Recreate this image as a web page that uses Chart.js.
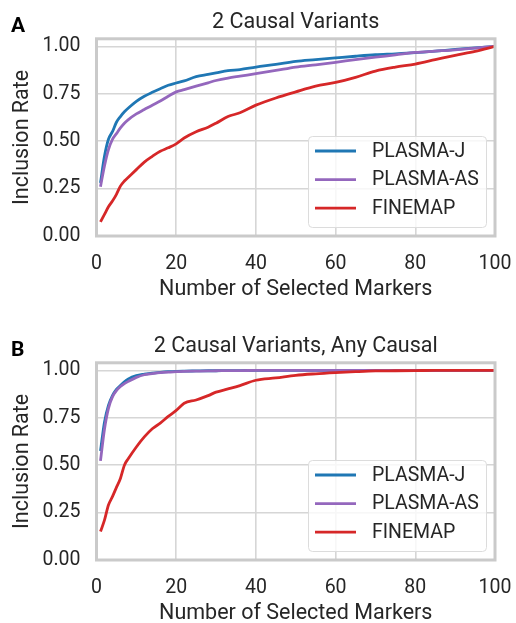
<!DOCTYPE html>
<html>
<head>
<meta charset="utf-8">
<script src="https://cdn.jsdelivr.net/npm/chart.js@4/dist/chart.umd.min.js"></script>
<style>
    html, body { margin: 0; padding: 0; overflow: hidden; background: #fff; }
    .panel { position: absolute; left: 0; width: 516px; height: 324px; }
    #panelA { top: 0; }
    #panelB { top: 324px; }
</style>
</head>
<body>
<div class="panel" id="panelA"><canvas id="chartA" width="516" height="324"></canvas></div>
<div class="panel" id="panelB"><canvas id="chartB" width="516" height="324"></canvas></div>
<script>
var markerCounts = [1, 2, 3, 4, 5, 6, 7, 8, 10, 12, 14, 16, 18, 20, 22, 25, 28, 30, 33, 36,
    40, 45, 50, 55, 60, 65, 70, 75, 80, 85, 90, 95, 100];

// panel A: 2 causal variants
var plasmaJA = [0.28, 0.42, 0.51, 0.55, 0.60, 0.63, 0.655, 0.675, 0.71, 0.737, 0.758, 0.777, 0.795, 0.807, 0.818, 0.84, 0.852, 0.86, 0.872, 0.878,
    0.891, 0.905, 0.921, 0.93, 0.939, 0.948, 0.956, 0.961, 0.967, 0.975, 0.984, 0.992, 1.0];
var plasmaAsA = [0.26, 0.37, 0.456, 0.51, 0.54, 0.57, 0.595, 0.614, 0.644, 0.667, 0.69, 0.712, 0.737, 0.76, 0.772, 0.79, 0.808, 0.82, 0.833, 0.843,
    0.856, 0.873, 0.891, 0.903, 0.916, 0.93, 0.943, 0.955, 0.968, 0.975, 0.982, 0.991, 1.0];
var finemapA = [0.074, 0.114, 0.154, 0.184, 0.22, 0.263, 0.29, 0.31, 0.35, 0.39, 0.42, 0.447, 0.465, 0.486, 0.517, 0.55, 0.574, 0.595, 0.63, 0.65,
    0.69, 0.728, 0.76, 0.79, 0.81, 0.837, 0.87, 0.891, 0.907, 0.93, 0.953, 0.974, 1.0];

// panel B: 2 causal variants, any causal
var plasmaJB = [0.575, 0.727, 0.815, 0.867, 0.90, 0.92, 0.94, 0.955, 0.972, 0.98, 0.986, 0.99, 0.993, 0.995, 0.996, 0.997, 0.998, 0.998, 0.999, 0.999,
    1.0, 1.0, 1.0, 1.0, 1.0, 1.0, 1.0, 1.0, 1.0, 1.0, 1.0, 1.0, 1.0];
var plasmaAsB = [0.523, 0.69, 0.80, 0.86, 0.893, 0.915, 0.93, 0.942, 0.963, 0.977, 0.983, 0.988, 0.991, 0.993, 0.995, 0.996, 0.997, 0.998, 0.999, 0.999,
    1.0, 1.0, 1.0, 1.0, 1.0, 1.0, 1.0, 1.0, 1.0, 1.0, 1.0, 1.0, 1.0];
var finemapB = [0.15, 0.21, 0.29, 0.334, 0.383, 0.43, 0.5, 0.535, 0.596, 0.649, 0.692, 0.722, 0.757, 0.789, 0.827, 0.844, 0.867, 0.885, 0.902, 0.92,
    0.948, 0.96, 0.974, 0.982, 0.988, 0.993, 0.997, 0.998, 0.999, 1.0, 1.0, 1.0, 1.0];

var seriesLabels = ['PLASMA-J', 'PLASMA-AS', 'FINEMAP'];
var seriesColors = ['#1f77b4', '#9467bd', '#d62728'];
var xTickValues = [0, 20, 40, 60, 80, 100];
var yTickValues = [0, 0.25, 0.5, 0.75, 1.0];

var textColor = '#262626';
var gridColor = '#d6d6d6';
var frameColor = '#cacaca';

Chart.defaults.font.family = 'Roboto, "Liberation Sans", sans-serif';
Chart.defaults.color = textColor;

function toPoints(values) {
    return markerCounts.map(function (x, i) {
        return {x: x, y: values[i]};
    });
}

// frame, panel letter and a matplotlib-like legend in the lower right corner
var panelPlugin = {
    id: 'panelDecor',
    afterDatasetsDraw: function (chart) {
        var ctx = chart.ctx;
        var area = chart.chartArea;
        ctx.save();
        ctx.strokeStyle = frameColor;
        ctx.lineWidth = 3;
        ctx.strokeRect(area.left, area.top, area.right - area.left, area.bottom - area.top);
        ctx.restore();
    },
    afterDraw: function (chart, args, opts) {
        var ctx = chart.ctx;
        var area = chart.chartArea;
        ctx.save();
        ctx.fillStyle = '#000';
        ctx.font = 'bold 21px Roboto, "Liberation Sans", sans-serif';
        ctx.textBaseline = 'alphabetic';
        ctx.textAlign = 'left';
        ctx.fillText(opts.letter, 11, 32);

        var boxW = 178, boxH = 91;
        var bx = area.right - 9 - boxW;
        var by = area.bottom - 9 - boxH;
        ctx.beginPath();
        ctx.roundRect(bx + 0.5, by + 0.5, boxW, boxH, 4);
        ctx.fillStyle = 'rgba(255,255,255,0.8)';
        ctx.fill();
        ctx.strokeStyle = '#dcdcdc';
        ctx.lineWidth = 1;
        ctx.stroke();

        ctx.font = '19.5px Roboto, "Liberation Sans", sans-serif';
        ctx.textBaseline = 'middle';
        chart.data.datasets.forEach(function (ds, i) {
            var rowY = by + 15 + i * 28.6;
            ctx.beginPath();
            ctx.moveTo(bx + 7, rowY);
            ctx.lineTo(bx + 48, rowY);
            ctx.strokeStyle = ds.borderColor;
            ctx.lineWidth = 2.8;
            ctx.stroke();
            ctx.fillStyle = textColor;
            ctx.fillText(ds.label, bx + 64, rowY + 1);
        });
        ctx.restore();
    }
};

function makeChart(canvasId, title, letter, seriesValues) {
    var ctx = document.getElementById(canvasId).getContext('2d');
    var datasets = seriesValues.map(function (values, i) {
        return {
            label: seriesLabels[i],
            data: toPoints(values),
            borderColor: seriesColors[i],
            borderWidth: 2.8,
            pointRadius: 0,
            cubicInterpolationMode: 'monotone',
            order: seriesValues.length - i
        };
    });

    return new Chart(ctx, {
        type: 'line',
        data: {datasets: datasets},
        options: {
            responsive: false,
            animation: false,
            layout: {padding: 0},
            plugins: {
                legend: {display: false},
                tooltip: {enabled: false},
                title: {
                    display: true,
                    fullSize: false,
                    text: title,
                    color: textColor,
                    font: {size: 21.5, weight: 'normal'},
                    padding: {top: 10, bottom: 3}
                },
                panelDecor: {letter: letter}
            },
            scales: {
                x: {
                    type: 'linear',
                    min: 0,
                    max: 100,
                    afterBuildTicks: function (scale) {
                        scale.ticks = xTickValues.map(function (v) { return {value: v}; });
                    },
                    afterFit: function (scale) {
                        scale.height = 88;
                        scale.paddingLeft = 0;
                        scale.paddingRight = 21;
                    },
                    grid: {color: gridColor, lineWidth: 1.6, drawTicks: false},
                    border: {display: false},
                    ticks: {font: {size: 19.5}, padding: 16, maxRotation: 0},
                    title: {
                        display: true,
                        text: 'Number of Selected Markers',
                        font: {size: 21.5},
                        padding: {top: 0, bottom: 21}
                    }
                },
                y: {
                    min: 0,
                    max: 1.04,
                    afterBuildTicks: function (scale) {
                        scale.ticks = yTickValues.map(function (v) { return {value: v}; });
                    },
                    afterFit: function (scale) { scale.width = 96.5; },
                    grid: {color: gridColor, lineWidth: 1.6, drawTicks: false},
                    border: {display: false},
                    ticks: {
                        font: {size: 19.5},
                        padding: 16,
                        callback: function (v) { return v.toFixed(2); }
                    },
                    title: {
                        display: true,
                        text: 'Inclusion Rate',
                        font: {size: 21.5},
                        padding: {top: 10, bottom: 0}
                    }
                }
            }
        },
        plugins: [panelPlugin]
    });
}

makeChart('chartA', '2 Causal Variants', 'A', [plasmaJA, plasmaAsA, finemapA]);
makeChart('chartB', '2 Causal Variants, Any Causal', 'B', [plasmaJB, plasmaAsB, finemapB]);
</script>
</body>
</html>
